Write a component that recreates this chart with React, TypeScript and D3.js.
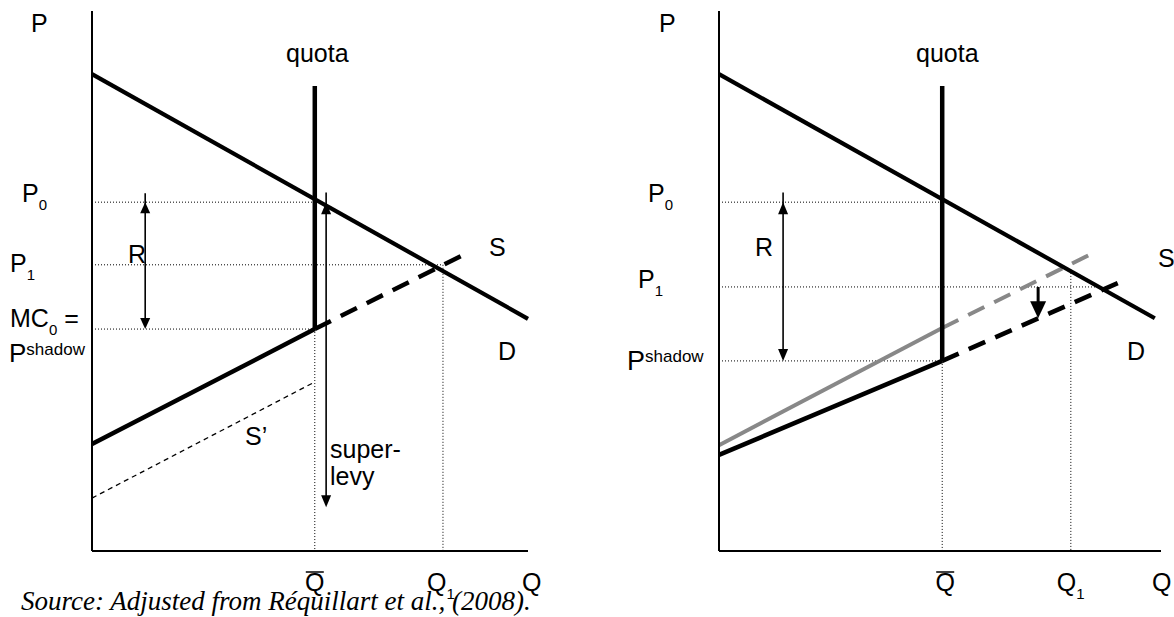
import React from 'react';
import * as d3 from 'd3';

// Both panels use the same units: Q and P run from 0 to 10 along each axis.

// left panel: quota with super-levy
const leftDemand: [number, number][] = [[0, 8.83], [10, 4.3]];
const leftSupply: [number, number][] = [[0, 1.98], [5.11, 4.11]];
const leftSupplyExt: [number, number][] = [[5.11, 4.11], [8.51, 5.48]];
const leftSupplyLevy: [number, number][] = [[0, 0.98], [5.11, 3.13]];
const leftQ = [5.11, 8.05]; // Q-bar, Q1
const leftP = [6.46, 5.3, 4.11]; // P0, P1, P shadow
const leftQuotaTop = 8.61;
const leftRentQ = 1.22;
const leftLevy = [5.37, 0.81]; // arrow Q, arrow lower end

// right panel: supply shift
const rightDemand: [number, number][] = [[0, 8.83], [9.86, 4.31]];
const rightSupply: [number, number][] = [[0, 1.78], [5.05, 3.52]];
const rightSupplyExt: [number, number][] = [[5.05, 3.52], [9.1, 4.99]];
const rightSupplyOld: [number, number][] = [[0, 1.96], [5.05, 4.13]];
const rightSupplyOldExt: [number, number][] = [[5.05, 4.13], [8.37, 5.48]];
const rightQ = [5.05, 7.96]; // Q-bar, Q1
const rightP = [6.46, 4.89, 3.52]; // P0, P1, P shadow
const rightP1End = 8.51;
const rightQ1Top = 5.15;
const rightQuotaTop = 8.61;
const rightRentQ = 1.45;
const rightShift = [7.22, 4.31]; // arrow Q, arrow lower end

const W = 1174;
const H = 617;
const FONT = '"Liberation Sans", Arial, sans-serif';

const yS = d3.scaleLinear().domain([0, 10]).range([551, 11]);
const leftX = d3.scaleLinear().domain([0, 10]).range([92, 528]);
const rightX = d3.scaleLinear().domain([0, 10]).range([719, 1161]);

const head = (x: number, y: number, dir: number, len: number, half: number) =>
  `M${x},${y}L${x - half},${y - dir * len}L${x + half},${y - dir * len}Z`;

const Arrow = ({ x, y1, y2, w, len, half, both }: any) => {
  // y1 is the tail/top end, y2 the tip; both = double headed
  const dir = y2 > y1 ? 1 : -1;
  return (
    <g>
      <line x1={x} x2={x} y1={both ? y1 - dir * len * 0.8 : y1} y2={y2 - dir * len * 0.8} stroke="#000" strokeWidth={w} />
      <path d={head(x, y2, dir, len, half)} fill="#000" />
      {both && <path d={head(x, y1, -dir, len, half)} fill="#000" />}
    </g>
  );
};

const Dotted = (p: any) => <line {...p} stroke="#000" strokeWidth={1} strokeDasharray="1,2" />;

const Txt = ({ x, y, size = 25, children, ...rest }: any) => (
  <text x={x} y={y} fontSize={size} fontFamily={FONT} fill="#000" {...rest}>
    {children}
  </text>
);

const Sub = ({ x, y, main, sub, size = 25 }: any) => (
  <Txt x={x} y={y} size={size}>
    {main}
    <tspan fontSize={15} dy={8}>{sub}</tspan>
  </Txt>
);

const QBar = ({ cx }: any) => (
  <g>
    <Txt x={cx} y={591} textAnchor="middle">Q</Txt>
    <line x1={cx - 9} x2={cx + 9} y1={572} y2={572} stroke="#000" strokeWidth={1.5} />
  </g>
);

const Panel = ({ xs, demand, supply, supplyExt, q, p, quotaTop, p1End, q1Top, children }: any) => {
  const line = d3.line<[number, number]>().x((d) => xs(d[0])).y((d) => yS(d[1]));
  const x0 = xs(0);
  return (
    <g>
      {/* guides */}
      <Dotted x1={x0} x2={xs(q[0])} y1={yS(p[0])} y2={yS(p[0])} />
      <Dotted x1={x0} x2={xs(p1End)} y1={yS(p[1])} y2={yS(p[1])} />
      <Dotted x1={x0} x2={xs(q[0])} y1={yS(p[2])} y2={yS(p[2])} />
      <Dotted x1={xs(q[0])} x2={xs(q[0])} y1={yS(p[2])} y2={yS(0)} />
      <Dotted x1={xs(q[1])} x2={xs(q[1])} y1={yS(q1Top)} y2={yS(0)} />
      {children}
      {/* axes */}
      <line x1={x0} x2={x0} y1={yS(10)} y2={yS(0)} stroke="#000" strokeWidth={2} />
      <line x1={x0} x2={xs(10)} y1={yS(0)} y2={yS(0)} stroke="#000" strokeWidth={2} />
      {/* demand, supply, quota */}
      <path d={line(demand) || ''} stroke="#000" strokeWidth={4.2} fill="none" />
      <path d={line(supply) || ''} stroke="#000" strokeWidth={4.5} fill="none" />
      <path d={line(supplyExt) || ''} stroke="#000" strokeWidth={4.5} fill="none" strokeDasharray="18,11" />
      <line x1={xs(q[0])} x2={xs(q[0])} y1={yS(quotaTop)} y2={yS(p[2])} stroke="#000" strokeWidth={4.5} />
    </g>
  );
};

export default function App() {
  const lineL = d3.line<[number, number]>().x((d) => leftX(d[0])).y((d) => yS(d[1]));
  const lineR = d3.line<[number, number]>().x((d) => rightX(d[0])).y((d) => yS(d[1]));
  return (
    <svg width={W} height={H} style={{ position: 'absolute', left: 0, top: 0, background: '#fff' }}>
      {/* ---------- left ---------- */}
      <Panel xs={leftX} demand={leftDemand} supply={leftSupply} supplyExt={leftSupplyExt}
        q={leftQ} p={leftP} quotaTop={leftQuotaTop} p1End={leftQ[1]} q1Top={leftP[1]}>
        <path d={lineL(leftSupplyLevy) || ''} stroke="#000" strokeWidth={1.3} fill="none" strokeDasharray="5,4" />
        <Arrow x={leftX(leftRentQ)} y1={yS(leftP[0])} y2={yS(leftP[2])} w={1.6} len={11} half={5} both />
        <Arrow x={leftX(leftLevy[0])} y1={yS(leftP[0])} y2={yS(leftLevy[1])} w={1.6} len={12} half={5} both />
      </Panel>
      <Txt x={31} y={32}>P</Txt>
      <Txt x={286} y={62}>quota</Txt>
      <Sub x={22} y={202} main="P" sub="0" />
      <Txt x={128} y={263}>R</Txt>
      <Sub x={10} y={272} main="P" sub="1" />
      <Txt x={10} y={327}>MC<tspan fontSize={15} dy={8}>0</tspan><tspan dy={-8}> =</tspan></Txt>
      <Txt x={9} y={362} size={26}>P<tspan fontSize={17} dy={-7}>shadow</tspan></Txt>
      <Txt x={489} y={256}>S</Txt>
      <Txt x={498} y={360}>D</Txt>
      <Txt x={245} y={445}>S’</Txt>
      <Txt x={330} y={458}>super-</Txt>
      <Txt x={330} y={485}>levy</Txt>
      <QBar cx={leftX(leftQ[0])} />
      <Sub x={leftX(leftQ[1]) - 16} y={591} main="Q" sub="1" />
      <Txt x={522} y={591}>Q</Txt>
      <text x={21} y={610} fontSize={27} fontStyle="italic" fontFamily='"Liberation Serif", "Times New Roman", serif'>
        Source: Adjusted from Réquillart et al., (2008).
      </text>

      {/* ---------- right ---------- */}
      <Panel xs={rightX} demand={rightDemand} supply={rightSupply} supplyExt={rightSupplyExt}
        q={rightQ} p={rightP} quotaTop={rightQuotaTop} p1End={rightP1End} q1Top={rightQ1Top}>
        <path d={lineR(rightSupplyOld) || ''} stroke="#888" strokeWidth={4} fill="none" />
        <path d={lineR(rightSupplyOldExt) || ''} stroke="#888" strokeWidth={4} fill="none" strokeDasharray="18,11" />
        <Arrow x={rightX(rightRentQ)} y1={yS(rightP[0])} y2={yS(rightP[2])} w={1.6} len={12} half={5} both />
        <Arrow x={rightX(rightShift[0])} y1={yS(rightP[1])} y2={yS(rightShift[1])} w={3} len={17} half={8} />
      </Panel>
      <Txt x={659} y={32}>P</Txt>
      <Txt x={916} y={62}>quota</Txt>
      <Sub x={648} y={202} main="P" sub="0" />
      <Txt x={755} y={256}>R</Txt>
      <Sub x={638} y={288} main="P" sub="1" />
      <Txt x={627} y={370} size={27}>P<tspan fontSize={17} dy={-8}>shadow</tspan></Txt>
      <Txt x={1158} y={267}>S</Txt>
      <Txt x={1127} y={360}>D</Txt>
      <QBar cx={rightX(rightQ[0]) + 3} />
      <Sub x={rightX(rightQ[1]) - 14} y={591} main="Q" sub="1" />
      <Txt x={1152} y={591}>Q</Txt>
    </svg>
  );
}
